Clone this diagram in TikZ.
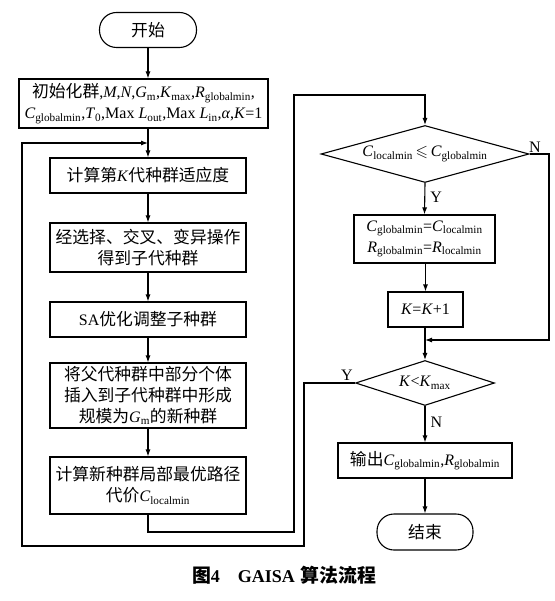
\documentclass[tikz,border=0pt]{standalone}
\usepackage{fontspec}
\usepackage{amssymb}
\setmainfont{Liberation Serif}
\newfontfamily\cjk[Scale=1.05]{Noto Sans CJK SC}
\usetikzlibrary{shapes.geometric,arrows.meta}
\newcommand\zh[1]{{\cjk #1}}
\newcommand\vi[2]{\textit{#1}\textsubscript{#2}}
\newcommand\fs{\fontsize{16}{21}\selectfont}
\tikzset{
  box/.style={draw, line width=1.1pt, align=center, inner sep=0pt, font=\fs},
  term/.style={box, rounded corners=17pt},
  dec/.style={draw, diamond, line width=1.1pt, inner sep=0pt, font=\fs},
  arr/.style={-{Latex[length=7pt,width=5pt]}, line width=1.1pt},
  ln/.style={line width=1.1pt},
  lbl/.style={font=\fs, inner sep=0pt}
}
\begin{document}
\begin{tikzpicture}[x=1pt,y=-1pt]
\fill[white] (0,0) rectangle (554,601);
\useasboundingbox (0,0) rectangle (554,601);
% left column
\node[term, minimum width=97pt, minimum height=35pt] (start) at (148,30) {\zh{开始}};
\node[box, minimum width=249pt, minimum height=49pt] (init) at (143.5,103.5)
  {\zh{初始化群},\textit{M},\textit{N},\vi{G}{m},\vi{K}{max},\vi{R}{globalmin},\\
   \vi{C}{globalmin},\textit{T}\textsubscript{0},Max\ \vi{L}{out},Max\ \vi{L}{in},\textit{α},\textit{K}=1};
\node[box, minimum width=196pt, minimum height=35pt] (b1) at (148,175.5) {\zh{计算第}\textit{K}\zh{代种群适应度}};
\node[box, minimum width=196pt, minimum height=49pt] (b2) at (148,247.5) {\zh{经选择、交叉、变异操作}\\\zh{得到子代种群}};
\node[box, minimum width=196pt, minimum height=35pt] (b3) at (148,319.5) {SA\zh{优化调整子种群}};
\node[box, minimum width=196pt, minimum height=65pt] (b4) at (148,395.5) {\zh{将父代种群中部分个体}\\\zh{插入到子代种群中形成}\\\zh{规模为}\vi{G}{m}\zh{的新种群}};
\node[box, minimum width=196pt, minimum height=57pt] (b5) at (148,485.5) {\zh{计算新种群局部最优路径}\\\zh{代价}\vi{C}{localmin}};
% right column
\node[dec, minimum width=208pt, minimum height=57pt, aspect=3.65] (d1) at (425,154) {\vi{C}{localmin}\,$\leqslant$\,\vi{C}{globalmin}};
\node[box, minimum width=141pt, minimum height=48pt] (b6) at (424.5,239) {\vi{C}{globalmin}=\vi{C}{localmin}\\\vi{R}{globalmin}=\vi{R}{localmin}};
\node[box, minimum width=75pt, minimum height=35pt] (b7) at (425.5,309.5) {\textit{K}=\textit{K}+1};
\node[dec, minimum width=139pt, minimum height=45pt, aspect=3.1] (d2) at (425,383) {\textit{K}<\vi{K}{max}};
\node[box, minimum width=174pt, minimum height=35pt] (b8) at (425,460.5) {\zh{输出}\vi{C}{globalmin},\vi{R}{globalmin}};
\node[term, minimum width=96pt, minimum height=36pt] (end) at (425,532) {\zh{结束}};
% caption
\node[inner sep=0pt] (cap) at (284,575) {\fontsize{18}{20}\selectfont\bfseries\zh{图}4\hspace{1em}GAISA\hspace{0.3em}\zh{算法流程}};
% coordinates
\coordinate (jin) at (148,143);
\coordinate (lb) at (22,546);
\coordinate (lt) at (22,143);
\coordinate (m1) at (148,532);
\coordinate (m2) at (294,532);
\coordinate (m3) at (294,95);
\coordinate (m4) at (425,95);
\coordinate (n1) at (549,154);
\coordinate (n2) at (549,340);
\coordinate (jn) at (425,340);
\coordinate (y1) at (304,383);
\coordinate (y2) at (304,546);
% connectors
\draw[arr] (start.south) -- (start.south |- init.north);
\draw[arr] (b1.north |- init.south) -- (b1.north);
\draw[arr] (b1) -- (b2);
\draw[arr] (b2) -- (b3);
\draw[arr] (b3) -- (b4);
\draw[arr] (b4) -- (b5);
\draw[arr] (b5.south) -- (m1) -- (m2) -- (m3) -- (m4) -- (d1.north);
\draw[arr] (d1.south) -- (b6.north) node[lbl, pos=0.45, right=5pt] {Y};
\draw[arr] (d1.east) -- (n1) -- (n2) -- (jn);
\node[lbl] at (535,147) {N};
\draw[arr] (b6.south -| b7.north) -- (b7.north);
\draw[arr] (b7.south -| d2.north) -- (d2.north);
\draw[arr] (d2.west) -- (y1) -- (y2) -- (lb) -- (lt) -- (jin);
\node[lbl] at (347,375) {Y};
\draw[arr] (d2.south) -- (b8.north) node[lbl, pos=0.45, right=5pt] {N};
\draw[arr] (b8) -- (end);
\end{tikzpicture}
\end{document}
